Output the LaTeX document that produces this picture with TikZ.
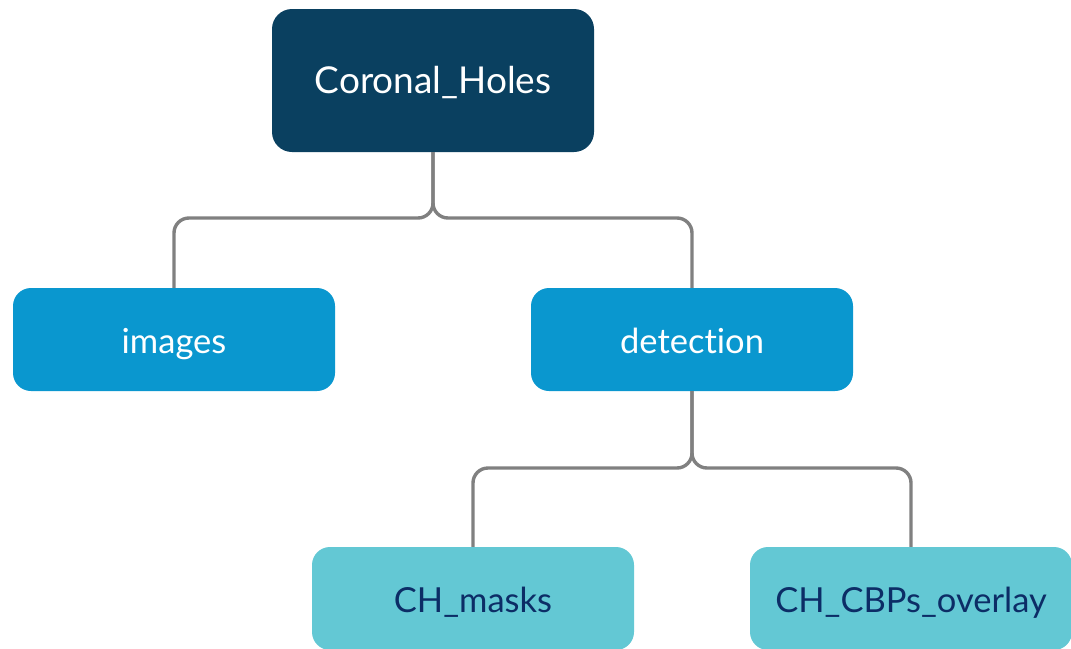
\documentclass[tikz,border=0pt]{standalone}
\usepackage{fontspec}
\setmainfont[Ligatures=NoCommon]{Lato}
\definecolor{rootfill}{HTML}{0A4060}
\definecolor{midfill}{HTML}{0A97CF}
\definecolor{leaffill}{HTML}{63C8D4}
\definecolor{leaftext}{HTML}{0C2D66}
\definecolor{linkgray}{HTML}{808080}
\begin{document}
\begin{tikzpicture}[x=1pt,y=-1pt,
    box/.style={rectangle,rounded corners=18pt,minimum width=322pt,minimum height=103pt,inner sep=0pt,text height=27pt,text depth=0pt,font=\fontsize{34.5}{40}\selectfont},
    rootbox/.style={box,fill=rootfill,text=white,minimum height=143pt,rounded corners=20pt,text height=25.6pt,font=\fontsize{37}{44}\selectfont},
    midbox/.style={box,fill=midfill,text=white},
    leafbox/.style={box,fill=leaffill,text=leaftext},
    link/.style={draw=linkgray,line width=3.4pt,rounded corners=15pt}]
    %myborder
    \useasboundingbox (0,0) rectangle (1071,648);

    %nodes
    \node[rootbox] (root) at (433,80.5) {Coronal\_Holes};
    \node[midbox] (images) at (174,339.5) {images};
    \node[midbox] (detection) at (692,339.5) {detection};
    \node[leafbox] (masks) at (473,598.5) {CH\_masks};
    \node[leafbox] (overlay) at (911,598.5) {CH\_CBPs\_overlay};

    %links
    \coordinate (split top) at (433,218);
    \coordinate (split bottom) at (692,468);
    \draw[link] (root.south) -- (split top) -| (images.north);
    \draw[link] (root.south) -- (split top) -| (detection.north);
    \draw[link] (detection.south) -- (split bottom) -| (masks.north);
    \draw[link] (detection.south) -- (split bottom) -| (overlay.north);

  \end{tikzpicture}
\end{document}
